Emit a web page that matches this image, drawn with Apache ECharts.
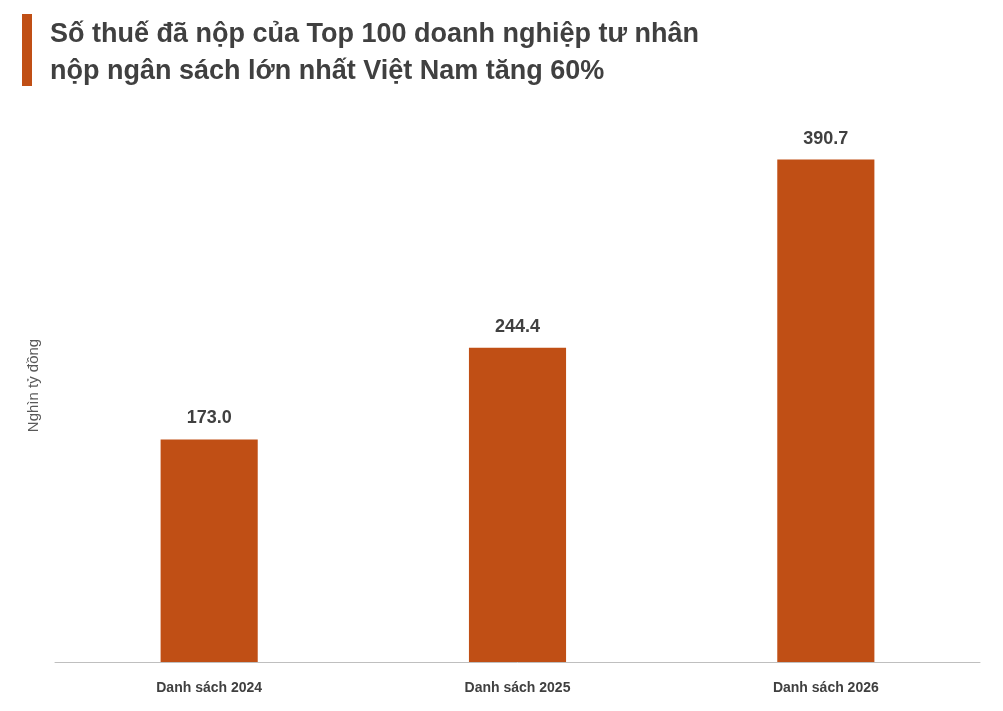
<!DOCTYPE html>
<html>
<head>
<meta charset="utf-8">
<script src="https://cdn.jsdelivr.net/npm/echarts@6/dist/echarts.min.js"></script>
<style>
html,body{margin:0;padding:0;background:#fff;}
#chart{width:1003px;height:711px;}
</style>
</head>
<body>
<div id="chart"></div>
<script>
// dữ liệu
const categories = ['Danh sách 2024', 'Danh sách 2025', 'Danh sách 2026']
const values = [173.0, 244.4, 390.7]

var myChart = echarts.init(document.getElementById('chart'))
var option = {
    animation: false,
    graphic: [
        { type: 'rect', shape: { x: 22, y: 14, width: 10, height: 72 }, style: { fill: '#C04F15' } },
        {
            type: 'text', left: 50, top: 16,
            style: {
                text: 'Số thuế đã nộp của Top 100 doanh nghiệp tư nhân\nnộp ngân sách lớn nhất Việt Nam tăng 60%',
                font: 'bold 27px "Liberation Sans", Arial, sans-serif',
                fill: '#404040', lineHeight: 37
            }
        }
    ],
    grid: { left: 55, right: 23, top: 109, bottom: 49 },
    xAxis: {
        type: 'category',
        data: categories,
        axisTick: { show: false },
        axisLine: { lineStyle: { color: '#bfbfbf', width: 1 } },
        axisLabel: { color: '#404040', fontWeight: 'bold', fontSize: 14, margin: 19, fontFamily: 'Liberation Sans' }
    },
    yAxis: {
        type: 'value', min: 0, max: 430,
        name: 'Nghìn tỷ đồng', nameLocation: 'middle', nameGap: 14,
        nameTextStyle: { color: '#595959', fontSize: 15, fontFamily: 'Liberation Sans' },
        axisLine: { show: false }, axisTick: { show: false },
        axisLabel: { show: false }, splitLine: { show: false }
    },
    series: [{
        type: 'bar',
        data: values,
        barWidth: '31.5%',
        itemStyle: { color: '#C04F15' },
        label: {
            show: true, position: 'top', distance: 12,
            formatter: p => p.value.toFixed(1),
            color: '#404040', fontWeight: 'bold', fontSize: 18, fontFamily: 'Liberation Sans'
        }
    }]
}
myChart.setOption(option)
</script>
</body>
</html>
